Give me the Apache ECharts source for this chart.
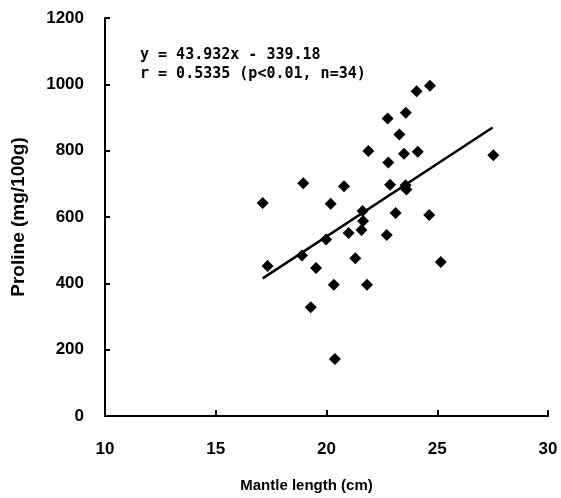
<!DOCTYPE html>
<html>
<head>
<meta charset="utf-8">
<script src="https://cdn.jsdelivr.net/npm/echarts@6/dist/echarts.min.js"></script>
<style>
html,body{margin:0;padding:0;background:#fff;}
#chart{width:561px;height:498px;}
</style>
</head>
<body>
<div id="chart"></div>
<script>
// Mantle length (cm)
var mantleLength = [24.67, 24.07, 23.58, 22.76, 23.29, 21.89, 23.50, 24.12, 27.53, 22.79,
  18.95, 20.79, 17.12, 20.19, 22.87, 23.57, 23.61, 21.63, 23.12, 24.64,
  21.65, 21.58, 21.00, 19.98, 22.72, 18.89, 17.34, 19.53, 21.30, 20.33,
  21.83, 25.16, 19.29, 20.38];
// Proline (mg/100g)
var proline = [996, 979, 914, 897, 849, 799, 791, 797, 786, 764,
  702, 693, 642, 640, 697, 696, 683, 618, 612, 606,
  588, 561, 552, 532, 546, 484, 452, 446, 476, 396,
  396, 464, 328, 172];
// Fitted regression line endpoints
var fitX = [17.12, 27.5];
var fitY = [415, 870];
var xTicks = [10, 15, 20, 25, 30];
var yTicks = [0, 200, 400, 600, 800, 1000, 1200];
var eqLines = ['y = 43.932x - 339.18', 'r = 0.5335 (p<0.01, n=34)'];

var pts = mantleLength.map(function (x, i) { return [x, proline[i]]; });
var fit = fitX.map(function (x, i) { return [x, fitY[i]]; });

var chart = echarts.init(document.getElementById('chart'), null, {renderer: 'canvas'});
var labelFont = {color: '#000', fontFamily: 'Liberation Sans, Arial, sans-serif', fontWeight: 'bold', fontSize: 17};
chart.setOption({
  backgroundColor: '#fff',
  animation: false,
  grid: {left: 105, right: 13, top: 18, bottom: 80, containLabel: false},
  xAxis: {
    type: 'value', min: xTicks[0], max: xTicks[xTicks.length - 1], interval: 5,
    name: 'Mantle length (cm)', nameLocation: 'middle', nameGap: 62,
    nameTextStyle: {color: '#000', fontFamily: 'Liberation Sans, Arial, sans-serif', fontWeight: 'bold', fontSize: 15, padding: [0, 40, 0, 0]},
    axisLine: {show: true, onZero: false, lineStyle: {color: '#000', width: 2}},
    axisTick: {show: true, inside: true, length: 6, lineStyle: {color: '#000', width: 2}},
    axisLabel: Object.assign({margin: 25, formatter: function (v) { return String(v); }}, labelFont),
    splitLine: {show: false}
  },
  yAxis: {
    type: 'value', min: yTicks[0], max: yTicks[yTicks.length - 1], interval: 200,
    name: 'Proline (mg/100g)', nameLocation: 'middle', nameGap: 77,
    nameTextStyle: {color: '#000', fontFamily: 'Liberation Sans, Arial, sans-serif', fontWeight: 'bold', fontSize: 19},
    axisLine: {show: true, onZero: false, lineStyle: {color: '#000', width: 2}},
    axisTick: {show: true, inside: true, length: 5, lineStyle: {color: '#000', width: 2}},
    axisLabel: Object.assign({margin: 21, formatter: function (v) { return String(v); }}, labelFont),
    splitLine: {show: false}
  },
  graphic: [{
    type: 'text', left: 140, top: 46,
    style: {text: eqLines.join('\n'), fill: '#000', font: 'bold 15px "DejaVu Sans Mono", monospace', lineHeight: 19}
  }],
  series: [{
    type: 'scatter', data: pts, symbol: 'diamond', symbolSize: 12,
    itemStyle: {color: '#000', opacity: 1}
  }, {
    type: 'line', data: fit, symbol: 'none',
    lineStyle: {color: '#000', width: 2.5}
  }]
});
</script>
</body>
</html>
